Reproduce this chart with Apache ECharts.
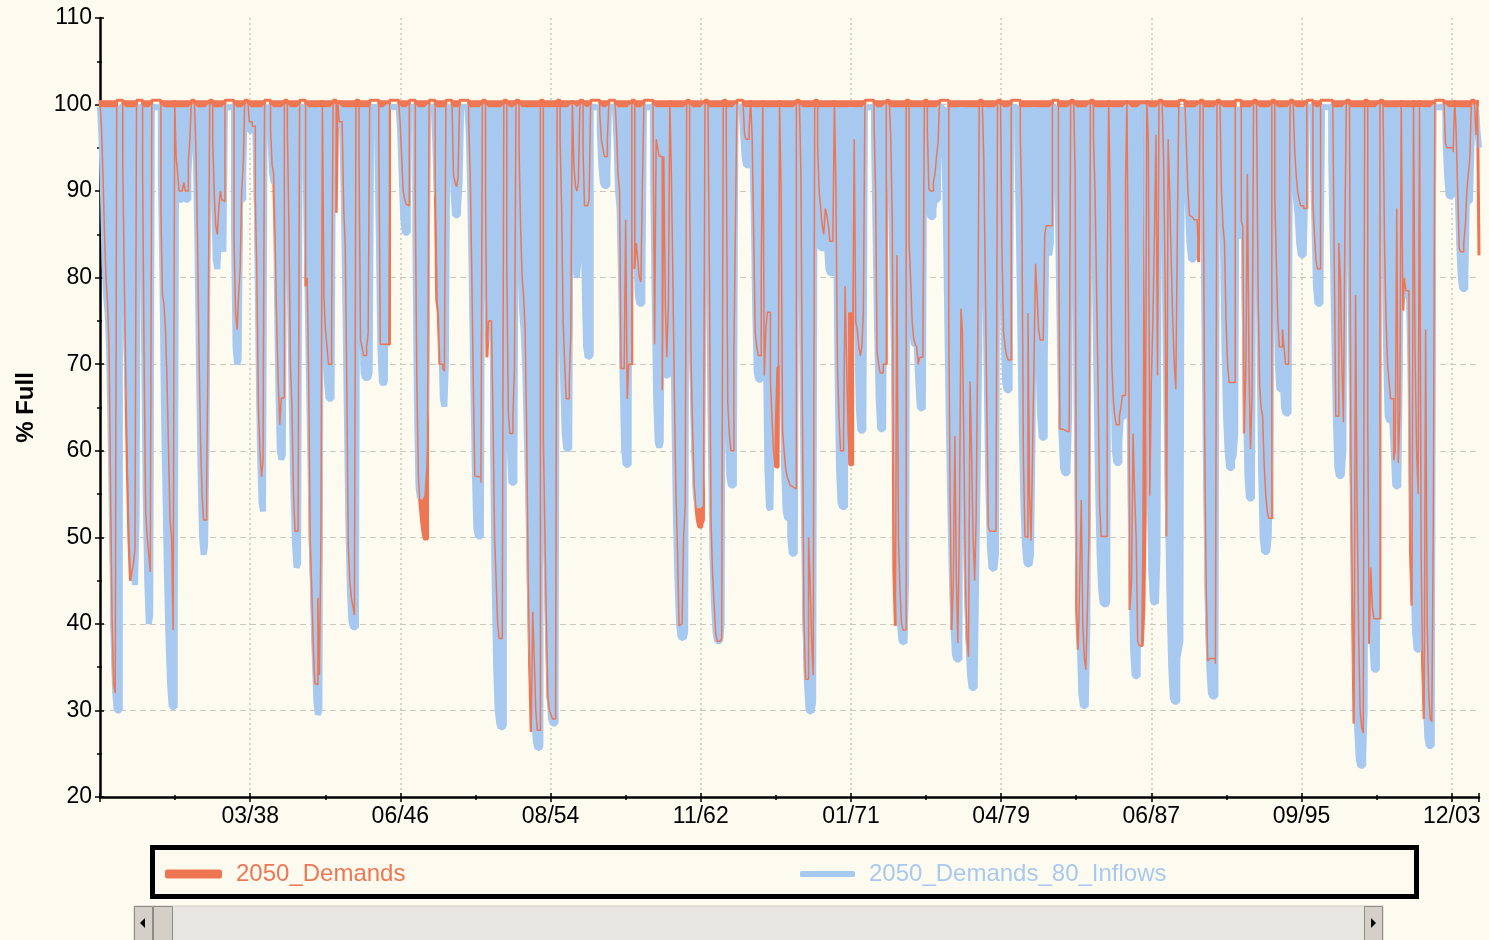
<!DOCTYPE html>
<html>
<head>
<meta charset="utf-8">
<script src="https://cdn.jsdelivr.net/npm/echarts@6/dist/echarts.min.js"></script>
<style>
html,body{margin:0;padding:0;background:#FDFBEF;}
#chart{width:1489px;height:940px;}
</style>
</head>
<body>
<div id="chart"></div>
<script>
// ---- DATA (monthly values, first value = Jan 1930) ----
const START_YEAR = 1930;
const xTickLabels = ['', '03/38', '06/46', '08/54', '11/62', '01/71', '04/79', '06/87', '09/95', '12/03'];
const X_TICK_DAYS = 3000;
const seriesNames = ['2050_Demands', '2050_Demands_80_Inflows'];
const FULL_LEVEL = { demands: 100.5, inflows: 99.7 };

// 2050_Demands (% Full)
const demands_1930s = [
100.5,97,92,85,80,77,72,55,40,33,32,100.5,
100.5,100.5,100.5,93,80,68,58,50,45,46,47,48.6,
100.5,100.5,100.5,100.5,92,70,53,50,48,46,100.5,100.5,
100.5,100.5,100.5,100.5,88,78,77,74,68,60,52,50,
39.3,100.5,94,92,90,90,90,91,90,90,93.4,96,
100.5,100.5,100.5,95,85,72,61.5,55,52,52,56,72.3,
100.5,100.5,96,89.8,86,85,88,90,89,88.8,100.5,100.5,
100.5,100.5,100.5,100.5,84.2,76,74,78,81,90,93,100.5,
100.5,100.5,98,98,97.5,97.5,89.3,80,64.6,60,57,58.9,
100.5,100.5,100.5,100.5,97,93,92,84,74.4,68,63,66.1
];
const demands_1940s = [
66.1,100.5,100.5,97,86,70,65.1,55,50.7,50.7,51.7,100.5,
100.5,100.5,100.5,79,80,68,49.6,44,37.3,33.1,33,43,
34.1,50.7,100.5,78,74,72,70,70,74.4,100.5,100.5,87.5,
100.5,98,98,97.5,88,83.6,68,48.8,45,43,42,41,
100.5,100.5,94,72.8,72,71,71,72,73.6,100.5,100.5,100.5,
100.5,100.5,100.5,96,72.3,72.3,72.3,72.3,72.3,72.3,100.5,100.5,
100.5,100.5,100.5,100.5,100.5,98,94,90,89,88.5,88.3,100.5,
100.5,100.5,100.5,88,68,57,54,52,50.5,49.8,49.8,62,
100.5,100.5,100.5,100.5,92,77.5,76,70,70,69.5,69.2,100.5,
100.5,100.5,100.5,100.5,92,91,90.5,91.6,100.5,100.5,100.5,100.5
];
const demands_1950s = [
100.5,100.5,98,92,81,68,57.1,57,57,57,56.3,100.5,
100.5,89.8,70.8,75,75,74,63.5,50,45,40,38.3,38.3,
38.3,100.5,100.5,81,64.6,62,62,64,69.5,100.5,100.5,95,
86,80,78,74,63,45.8,35.2,27.5,41.4,36,30,27.7,
27.7,100.5,100.5,61.5,50.7,40,31.6,30,29.5,29,29,30.3,
100.5,100.5,96,88,74.9,70,66,66,68,73.6,100.5,93,
90.6,90,91,100.5,100.5,95,88.3,88.3,88.3,89,100.5,100.5,
100.5,100.5,100.5,100.5,99,96,95,94,94,96,100.5,100.5,
100.5,100.5,100.5,97,92,90,69.5,69.5,69.5,86.7,66,70,
70,100.5,100.5,81,84,82,80,79.5,91,100.5,100.5,100.5
];
const demands_1960s = [
100.5,100.5,100.5,98,72.3,96,95,94,94,67,94,77,
70.8,77,100.5,92,80,66,55,48.6,39.8,40,40,50,
53.7,100.5,100.5,90,70,62,56,53.7,52,51.2,51.2,51.5,
52,100.5,100.5,100.5,80,52.2,46,42.4,39,38,38,38,
38.3,100.5,100.5,96,65.6,62,60,60,71.3,86,100.5,100.5,
100.5,100.5,100.5,96.6,96,96,97,100.5,96,85,73.6,72,
71,71,80.5,100.5,68.7,74,76,76,68,64,60,58.2,
58.1,58.5,100.5,90,62.2,60,58,57,56.5,56,55.8,55.6,
55.6,100.5,100.5,100.5,92,64.6,40.9,33.6,33.6,50,45,38,
34.1,100.5,100.5,95,90,88,86,85,88,87.2,86,84.2
];
const demands_1970s = [
84.2,85,100.5,90,70,64,60,60,62,79,70,62,
58.4,58.4,71.8,96,74.9,74,72,71,72,76,100.5,100.5,
100.5,100.5,100.5,100.5,98,90,71.3,70,69,69,70,70,
100.5,100.5,100.5,96,86.2,46,39.8,82.6,50,44,40,39.3,
39.3,100.5,100.5,84,80,75,73,72.3,72,70,70.8,70.8,
70.8,100.5,100.5,97,90.3,90,90,91,92,94,95.6,100.5,
100.5,100.5,100.5,100.5,100.5,75.1,53.3,39.3,45,61.7,45,37.8,
52.2,76.4,73.8,60,45,38.3,36.2,68,59.4,50,45,52.5,
71.8,100.5,100.5,100.5,94,80,65.6,51.2,50.7,50.7,50.7,50.7,
50.7,100.5,100.5,100.5,83.1,73.8,72,71,70.5,70.5,100.5,100.5
];
const demands_1980s = [
100.5,100.5,100.5,100.5,96,87.8,59.4,50.1,50,75.9,55,49.6,
59.9,71.3,81.6,78,74,72.8,72.8,72.8,85,86,86,86,
86,100.5,100.5,100.5,100.5,90,62.5,62.5,62.4,62.3,62.3,62.2,
62.2,100.5,100.5,100.5,91.9,41.4,37,45,54.3,40,36,34.7,
41.6,50.1,100.5,100.5,96,90,79,67.4,53.7,50.1,50.1,50.1,
50.1,80.8,100.5,88.8,70.3,66,64,63,63,64,65,66.4,
66.4,91,100.5,75.1,41.6,45,62,55,50,38,37.5,37.5,
37.5,41.6,52.7,100.5,96,54.8,68,75,85,96.5,68.7,100.5,
100.5,100.5,94,80,50.1,96,90,82,75,70,67.1,85,
100.5,100.5,100.5,100.5,100.5,95,90,87.2,87,87,86.7,86.7
];
const demands_1990s = [
86.7,81.8,100.5,100.5,95,61.7,44.2,35.7,36,36,36,36,
35.4,100.5,100.5,100.5,90.1,86,84.1,75,70,67.9,67.9,67.9,
67.9,100.5,100.5,100.5,100.5,86.5,86,62,70,92,70,60.2,
66.1,100.5,100.5,100.5,79,67.7,65,64,58.4,55,53,52.2,
52.2,100.5,100.5,89.3,82,75,72,72,74,72,70,70,
70,100.5,100.5,100.5,95,92,90,89,88.3,88.3,88,88,
100.5,100.5,100.5,100.5,88.5,85,82,81,81,100.5,100.5,100.5,
100.5,100.5,100.5,100.5,100.5,100.5,82.6,64,64,84,80,70,
63.3,86.7,100.5,100.5,100.5,58.9,42,28.5,78,53.7,39,30,
28,27.4,100.5,100.5,63.6,37.7,46.5,42,40.6,40.6,40.6,40.6
];
const demands_2000s = [
100.5,100.5,100.5,83.9,75,70,68,66,66,58.9,60,88,
58.6,64.6,100.5,76.2,80,78.5,78.5,78.5,48.3,42.1,100.5,71.8,
60,55,100.5,48.5,35.4,29,74,40,32,29,28.7,51.5,
100.5,100.5,100.5,100.5,100.5,100.5,100.5,95.5,95,95,95,95,
94.5,100.5,97,90,83.4,83,83,84,86,90,92,94,
100.5,100.5,100.5,96.5,100.5,82.6
];

// 2050_Demands_80_Inflows (% Full)
const inflows_1930s = [
99.7,96,90,82,78,76,72,62,50,38,32,30,
30,99.7,99.7,94,86,76,68,65,60,52,46,44.5,
52,99.7,99.7,99.7,90,72,55,45,40,41,99.7,99.7,
99.7,99.7,99.7,99.7,92,80,65,55,45,38,33,30.5,
30.3,38,96,92,89,89,89,90,89,89,92,95,
99.7,99.7,99.7,94,84,70,58,50,48,49,62,99.7,
99.7,99.7,95,88,82,81,84,88,84,83,99.7,99.7,
99.7,99.7,99.7,99.7,85,72,70,70.5,89,89,92,99.7,
99.7,99.7,97,97,96.8,96.8,97,88,72,60,54,53,
99.7,99.7,99.7,99.7,96,92,91,91,80,68,60,59
];
const inflows_1940s = [
59.5,99.7,99.7,96,85,75,64,55,49,46.5,47,99.7,
99.7,99.7,99.7,92,82,70,60,50,42,36,31,29.5,
30,99.7,90,80,72,68,66,66,67,99.7,99.7,99.7,
99.7,97.6,97.6,97,90,78,65,52,44,40.3,39.6,39.6,
41,99.7,94,86,75,69,68.4,68.4,68.5,69,99.7,99.7,
99.7,99.7,96,85,72,68,67.7,68,99.7,99.7,99.7,99.7,
99.7,99.7,99.7,99.7,99.7,97,92,87,85.2,85.2,88,99.7,
99.7,99.7,99.7,85,66,56,54.5,55,58,62,65,99.7,
99.7,99.7,99.7,99.7,96,90,89,85,72,66,65.1,70,
99.7,99.7,99.7,96,90,87.2,87.2,88,91,99.7,99.7,99.7
];
const inflows_1950s = [
99.7,99.7,97,90,80,68,58,51,50.1,50.1,51,99.7,
99.7,92,82,74,73,72.8,60,45,35,30,28.5,28,
28.2,99.7,99.7,90,72,60,56.3,56.3,58,99.7,99.7,92,
82,76,74,70,63,55,46,38,33,29,26.5,25.6,
25.8,99.7,90,75,62,50,40,33,29,28.5,28.5,32,
99.7,96,88,78,68,62,60.2,60.2,61,99.7,99.7,90,
81,80,82,99.7,99.7,92,80,72,70.8,71,99.7,99.7,
99.7,99.7,99.7,99.7,97,93,91,90.6,90.6,92,99.7,99.7,
99.7,99.7,99.7,96,90,88,80,68,60,58.4,58.4,66,
99.7,99.7,96,90,82,78,77,77,80,99.7,99.7,99.7
];
const inflows_1960s = [
99.7,99.7,99.7,92,78,66,61,60.4,61,88,72,68.7,
68.7,72,99.7,90,78,64,52,45,40,38.5,38.3,38.3,
39,99.7,99.7,92,80,68,60,55,53.7,53.7,54,57,
99.7,99.7,99.7,90,75,60,48,42,39,38,38,38.3,
40,99.7,94,80,64,57,56,56,58,99.7,99.7,99.7,
99.7,99.7,97,94,93,93,95,99.7,96,88,76,69,
68.2,68.2,72,99.7,90,72,58,53.5,53.2,64,70,70,
70,72,99.7,88,70,58,53,52.2,52.2,50,48.1,48.1,
49,99.7,99.7,99.7,88,70,52,40,33,30,29.8,29.8,
31,99.7,96,90,84,83.4,83.4,86,88,84,81,80.5
];
const inflows_1970s = [
80.5,82,99.7,88,70,58,54,53.5,53.5,82,80,78,
76,99.7,96,93,86,74,65,62.3,62.3,63,99.7,99.7,
99.7,99.7,99.7,99.7,96,85,74,66,62.5,62.5,63,99.7,
99.7,99.7,96,90,82,72,62,52,45,40,38,37.8,
38,45,99.7,92,80,74,72.3,72.3,72,68,65,64.8,
65,99.7,96,92,88,87,87,88,89,89,92,99.7,
99.7,99.7,96,88,76,64,54,46,40,36.5,35.9,35.9,
37,99.7,92,75,58,45,38,34,32.6,32.6,33,45,
58,72,90,99.7,92,80,68,56,49,46.5,46.3,46.3,
48,99.7,99.7,92,82,74,68,67,67,70,99.7,99.7
];
const inflows_1980s = [
99.7,99.7,96,86,74,62,54,49,47,46.8,46.8,48,
62,99.7,92,80,70,64,61.5,61.5,70,84,83,82.6,
84,99.7,99.7,99.7,94,84,72,62,58,57.4,57.4,58,
64,99.7,99.7,99.7,85,65,48,38,32,30.5,30.5,31,
40,99.7,99.7,96,90,80,68,56,48,44,42.4,42.2,
42.2,42.5,99.7,94,84,70,60,58.6,58.6,61,64,63.8,
64.5,99.7,99.7,80,60,45,37,34,33.9,35,50,99.7,
99.7,99.7,99.7,88,70,55,46,42.6,42.4,42.4,48,99.7,
99.7,99.7,92,78,64,52,42,35,31.5,31,31,36,
37,38,99.7,98,96,92,88,84,82.1,82.1,83,86
];
const inflows_1990s = [
92,99.7,99.7,99.7,90,72,55,42,35,32,31.6,31.6,
33,99.7,99.7,99.7,94,84,72,64,60,58,58,59,
59.4,62,99.7,92,86,84.7,84.7,80,66,57,54.5,54.5,
56,99.7,99.7,99.7,88,72,58,50,48.3,48.3,48.3,50,
60,99.7,99.7,92,80,70,67.1,67.1,70,65,64.3,64.3,
65,99.7,99.7,96,92,89,87,84,82.6,82.6,83,90,
99.7,99.7,99.7,99.7,94,86,79,77,77,80,99.7,99.7,
99.7,99.7,99.7,99.7,94,84,74,64,58,57.1,57.1,57.5,
60,99.7,99.7,99.7,90,75,60,46,35,28,24.5,23.6,
23.6,25,30,99.7,85,65,48,38,34.7,34.7,36,99.7
];
const inflows_2000s = [
99.7,99.7,96,85,72,64,63.5,63.5,63.5,60,56,55.8,
56,70,99.7,90,82,78,77.7,78,70,55,45,39,
37,37,99.7,80,58,42,32,27,25.9,25.9,27,99.7,
99.7,99.7,99.7,99.7,99.7,99.7,99.7,96,92,89.5,89.3,89.3,
92,99.7,96,90,84,80,78.7,78.7,80,88.8,88.8,89,
95,99.7,99.7,99.7,97,95
];

// ---- BUILD ----
const demands = [].concat(demands_1930s, demands_1940s, demands_1950s, demands_1960s,
  demands_1970s, demands_1980s, demands_1990s, demands_2000s);
const inflows = [].concat(inflows_1930s, inflows_1940s, inflows_1950s, inflows_1960s,
  inflows_1970s, inflows_1980s, inflows_1990s, inflows_2000s);

const DAY_MS = 86400000;
const ORIGIN = Date.UTC(START_YEAR, 0, 1);
function monthToDay(i) { return (Date.UTC(START_YEAR, i, 1) - ORIGIN) / DAY_MS; }
const demandsData = demands.map((v, i) => [monthToDay(i), v]);
const inflowsData = inflows.map((v, i) => [monthToDay(i), v]);
const lastDay = monthToDay(Math.max(demands.length, inflows.length) - 1);

const ORANGE = '#EE7653';
const BLUE = '#A7C9EF';
const FONT = "'Liberation Sans', Arial, sans-serif";
const GRID_C = '#C9C7C0';

const nX = Math.floor(lastDay / X_TICK_DAYS) + 2;
const xGridColors = [];
for (let i = 0; i < nX; i++) xGridColors.push(i === nX - 1 || i === 0 ? 'rgba(0,0,0,0)' : GRID_C);
const yGridColors = [];
for (let i = 0; i < 10; i++) yGridColors.push(i === 9 || i === 0 ? 'rgba(0,0,0,0)' : GRID_C);

const chart = echarts.init(document.getElementById('chart'), null, {renderer: 'canvas'});
const xBase = { type: 'value', min: 0, max: lastDay, interval: X_TICK_DAYS, gridIndex: 0 };
const yBase = { type: 'value', min: 20, max: 110, interval: 10, gridIndex: 0 };

chart.setOption({
  backgroundColor: '#FDFBEF',
  animation: false,
  grid: { left: 100, right: 10, top: 18, bottom: 143, containLabel: false },
  xAxis: [
    Object.assign({}, xBase, {
      position: 'bottom',
      axisLine: { show: true, lineStyle: { color: '#000', width: 2.5 } },
      axisTick: { show: true, inside: false, length: 5, lineStyle: { color: '#000', width: 1.5 } },
      minorTick: { show: true, splitNumber: 2, length: 3, lineStyle: { color: '#000', width: 1.5 } },
      axisLabel: {
        show: true, margin: 8, color: '#000', fontSize: 23, fontFamily: FONT,
        showMaxLabel: false, showMinLabel: false,
        formatter: function (v) {
          if (v % X_TICK_DAYS !== 0) return '';
          return xTickLabels[v / X_TICK_DAYS] || '';
        }
      },
      splitLine: { show: true, lineStyle: { color: xGridColors, width: 1.5, type: [2, 3] } }
    }),
    Object.assign({}, xBase, {
      position: 'bottom',
      axisLine: { show: false },
      axisTick: { show: true, inside: true, length: 4, lineStyle: { color: '#000', width: 1.5 } },
      minorTick: { show: true, splitNumber: 2, length: 2, lineStyle: { color: '#000', width: 1.5 } },
      axisLabel: { show: false },
      splitLine: { show: false }
    })
  ],
  yAxis: [
    Object.assign({}, yBase, {
      position: 'left',
      name: '% Full', nameLocation: 'middle', nameGap: 62, nameRotate: 90,
      nameTextStyle: { color: '#000', fontSize: 24, fontWeight: 'bold', fontFamily: FONT },
      axisLine: { show: true, lineStyle: { color: '#000', width: 2.5 } },
      axisTick: { show: true, inside: false, length: 5, lineStyle: { color: '#000', width: 1.5 } },
      minorTick: { show: true, splitNumber: 2, length: 3, lineStyle: { color: '#000', width: 1.5 } },
      axisLabel: { show: true, margin: 8, color: '#000', fontSize: 23, fontFamily: FONT },
      splitLine: { show: true, lineStyle: { color: yGridColors, width: 1.2, type: [6, 4] } }
    }),
    Object.assign({}, yBase, {
      position: 'left',
      axisLine: { show: false },
      axisTick: { show: true, inside: true, length: 4, lineStyle: { color: '#000', width: 1.5 } },
      minorTick: { show: true, splitNumber: 2, length: 2, lineStyle: { color: '#000', width: 1.5 } },
      axisLabel: { show: false },
      splitLine: { show: false }
    })
  ],
  legend: [
    {
      data: [seriesNames[0]], left: 165, top: 862, padding: 0, icon: 'roundRect',
      itemWidth: 57, itemHeight: 9, itemGap: 14,
      textStyle: { color: ORANGE, fontSize: 24, fontFamily: FONT, padding: [0, 0, 0, 9] },
      selectedMode: false
    },
    {
      data: [seriesNames[1]], left: 800, top: 862, padding: 0, icon: 'roundRect',
      itemWidth: 55, itemHeight: 6, itemGap: 14,
      textStyle: { color: BLUE, fontSize: 24, fontFamily: FONT, padding: [0, 0, 0, 9] },
      selectedMode: false
    }
  ],
  graphic: [
    { type: 'rect', z: 100, shape: { x: 152.5, y: 847.5, width: 1264, height: 49 },
      style: { fill: 'rgba(0,0,0,0)', stroke: '#000', lineWidth: 5 } },
    { type: 'rect', z: 100, shape: { x: 134, y: 906, width: 1249, height: 40 },
      style: { fill: '#E8E6E1', stroke: '#CFCDC7', lineWidth: 1 } },
    { type: 'rect', z: 101, shape: { x: 134.5, y: 906.5, width: 18, height: 40 },
      style: { fill: '#D4D0C8', stroke: '#8E8B84', lineWidth: 1 } },
    { type: 'polygon', z: 102, shape: { points: [[140, 923], [145, 918], [145, 928]] },
      style: { fill: '#000' } },
    { type: 'rect', z: 101, shape: { x: 153.5, y: 906.5, width: 19, height: 40 },
      style: { fill: '#D4D0C8', stroke: '#8E8B84', lineWidth: 1 } },
    { type: 'rect', z: 101, shape: { x: 1364.5, y: 906.5, width: 18, height: 40 },
      style: { fill: '#D4D0C8', stroke: '#8E8B84', lineWidth: 1 } },
    { type: 'polygon', z: 102, shape: { points: [[1376, 923], [1371, 918], [1371, 928]] },
      style: { fill: '#000' } }
  ],
  series: [
    { // demands: line + fill between curve and full level (drawn behind)
      name: seriesNames[0], type: 'line', data: demandsData, step: 'end',
      showSymbol: false, symbol: 'none',
      lineStyle: { color: ORANGE, width: 3 }, itemStyle: { color: ORANGE },
      areaStyle: { color: ORANGE, opacity: 1, origin: FULL_LEVEL.demands },
      z: 1, silent: true
    },
    { // inflows
      name: seriesNames[1], type: 'line', data: inflowsData, step: 'end',
      showSymbol: false, symbol: 'none',
      lineStyle: { color: BLUE, width: 6 }, itemStyle: { color: BLUE },
      areaStyle: { color: BLUE, opacity: 1, origin: FULL_LEVEL.inflows },
      z: 2, silent: true
    },
    { // demands outline on top
      name: seriesNames[0], type: 'line', data: demandsData, step: 'end',
      showSymbol: false, symbol: 'none',
      lineStyle: { color: ORANGE, width: 1.5 }, itemStyle: { color: ORANGE },
      z: 3, silent: true
    }
  ]
});
</script>
</body>
</html>
